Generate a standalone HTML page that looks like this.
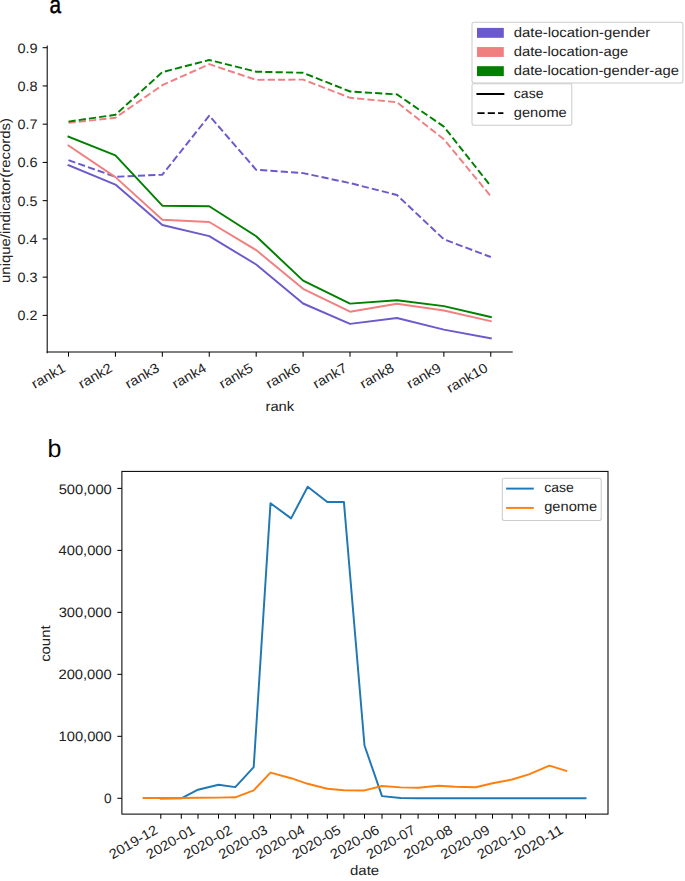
<!DOCTYPE html>
<html><head><meta charset="utf-8"><style>
html,body{margin:0;padding:0;background:#fff;}
#fig{width:685px;height:881px;position:relative;overflow:hidden;background:#fff;}
svg{position:absolute;left:0;top:0;}
text{font-family:"Liberation Sans",sans-serif;text-rendering:geometricPrecision;}
</style></head><body><div id="fig">
<svg width="685" height="881" viewBox="0 0 685 881">
<polyline points="68.50,165.20 115.42,184.60 162.34,225.00 209.26,236.10 256.18,264.50 303.10,303.50 350.02,323.90 396.94,318.00 443.86,329.60 490.78,338.30" fill="none" stroke="#6a5acd" stroke-width="1.95" stroke-linejoin="round" stroke-linecap="square"/>
<polyline points="68.50,160.20 115.42,176.80 162.34,174.70 209.26,115.70 256.18,169.80 303.10,173.10 350.02,183.10 396.94,195.00 443.86,239.30 490.78,257.00" fill="none" stroke="#6a5acd" stroke-width="1.95" stroke-dasharray="7.2 3.12" stroke-linejoin="round" stroke-linecap="butt"/>
<polyline points="68.50,145.60 115.42,177.10 162.34,219.80 209.26,222.00 256.18,250.10 303.10,288.80 350.02,311.70 396.94,303.80 443.86,310.50 490.78,321.20" fill="none" stroke="#f08080" stroke-width="1.95" stroke-linejoin="round" stroke-linecap="square"/>
<polyline points="68.50,122.80 115.42,117.80 162.34,85.20 209.26,64.20 256.18,79.90 303.10,79.60 350.02,97.80 396.94,102.20 443.86,139.30 490.78,196.20" fill="none" stroke="#f08080" stroke-width="1.95" stroke-dasharray="7.2 3.12" stroke-linejoin="round" stroke-linecap="butt"/>
<polyline points="68.50,136.60 115.42,155.30 162.34,205.70 209.26,206.30 256.18,236.30 303.10,280.60 350.02,303.60 396.94,300.30 443.86,306.10 490.78,317.00" fill="none" stroke="#008000" stroke-width="1.95" stroke-linejoin="round" stroke-linecap="square"/>
<polyline points="68.50,121.60 115.42,114.80 162.34,72.10 209.26,60.00 256.18,71.70 303.10,72.80 350.02,91.50 396.94,94.40 443.86,126.60 490.78,186.20" fill="none" stroke="#008000" stroke-width="1.95" stroke-dasharray="7.2 3.12" stroke-linejoin="round" stroke-linecap="butt"/>
<line x1="47.20" y1="46.10" x2="47.20" y2="352.62" stroke="#000" stroke-width="1.04" stroke-linecap="square"/>
<line x1="47.20" y1="352.10" x2="512.20" y2="352.10" stroke="#000" stroke-width="1.04" stroke-linecap="square"/>
<line x1="42.65" y1="315.38" x2="47.20" y2="315.38" stroke="#000" stroke-width="1.04"/>
<text x="17.53" y="320.38" font-size="13.7" textLength="19.79" lengthAdjust="spacingAndGlyphs" fill="#222">0.2</text>
<line x1="42.65" y1="277.14" x2="47.20" y2="277.14" stroke="#000" stroke-width="1.04"/>
<text x="17.52" y="282.14" font-size="13.7" textLength="19.97" lengthAdjust="spacingAndGlyphs" fill="#222">0.3</text>
<line x1="42.65" y1="238.90" x2="47.20" y2="238.90" stroke="#000" stroke-width="1.04"/>
<text x="17.52" y="243.90" font-size="13.7" textLength="20.07" lengthAdjust="spacingAndGlyphs" fill="#222">0.4</text>
<line x1="42.65" y1="200.66" x2="47.20" y2="200.66" stroke="#000" stroke-width="1.04"/>
<text x="17.53" y="205.66" font-size="13.7" textLength="19.84" lengthAdjust="spacingAndGlyphs" fill="#222">0.5</text>
<line x1="42.65" y1="162.42" x2="47.20" y2="162.42" stroke="#000" stroke-width="1.04"/>
<text x="17.51" y="167.42" font-size="13.7" textLength="20.21" lengthAdjust="spacingAndGlyphs" fill="#222">0.6</text>
<line x1="42.65" y1="124.18" x2="47.20" y2="124.18" stroke="#000" stroke-width="1.04"/>
<text x="17.52" y="129.18" font-size="13.7" textLength="19.99" lengthAdjust="spacingAndGlyphs" fill="#222">0.7</text>
<line x1="42.65" y1="85.94" x2="47.20" y2="85.94" stroke="#000" stroke-width="1.04"/>
<text x="17.52" y="90.94" font-size="13.7" textLength="20.12" lengthAdjust="spacingAndGlyphs" fill="#222">0.8</text>
<line x1="42.65" y1="47.70" x2="47.20" y2="47.70" stroke="#000" stroke-width="1.04"/>
<text x="17.52" y="52.70" font-size="13.7" textLength="20.16" lengthAdjust="spacingAndGlyphs" fill="#222">0.9</text>
<line x1="68.50" y1="352.10" x2="68.50" y2="356.65" stroke="#000" stroke-width="1.04"/>
<text x="0.21" y="0" font-size="13.7" textLength="36.66" lengthAdjust="spacingAndGlyphs" fill="#222" transform="translate(34.60 389.13) rotate(-30)">rank1</text>
<line x1="115.42" y1="352.10" x2="115.42" y2="356.65" stroke="#000" stroke-width="1.04"/>
<text x="0.21" y="0" font-size="13.7" textLength="36.57" lengthAdjust="spacingAndGlyphs" fill="#222" transform="translate(81.52 389.13) rotate(-30)">rank2</text>
<line x1="162.34" y1="352.10" x2="162.34" y2="356.65" stroke="#000" stroke-width="1.04"/>
<text x="0.21" y="0" font-size="13.7" textLength="36.75" lengthAdjust="spacingAndGlyphs" fill="#222" transform="translate(128.44 389.13) rotate(-30)">rank3</text>
<line x1="209.26" y1="352.10" x2="209.26" y2="356.65" stroke="#000" stroke-width="1.04"/>
<text x="0.20" y="0" font-size="13.7" textLength="36.85" lengthAdjust="spacingAndGlyphs" fill="#222" transform="translate(175.36 389.13) rotate(-30)">rank4</text>
<line x1="256.18" y1="352.10" x2="256.18" y2="356.65" stroke="#000" stroke-width="1.04"/>
<text x="0.21" y="0" font-size="13.7" textLength="36.62" lengthAdjust="spacingAndGlyphs" fill="#222" transform="translate(222.28 389.13) rotate(-30)">rank5</text>
<line x1="303.10" y1="352.10" x2="303.10" y2="356.65" stroke="#000" stroke-width="1.04"/>
<text x="0.20" y="0" font-size="13.7" textLength="36.98" lengthAdjust="spacingAndGlyphs" fill="#222" transform="translate(269.20 389.13) rotate(-30)">rank6</text>
<line x1="350.02" y1="352.10" x2="350.02" y2="356.65" stroke="#000" stroke-width="1.04"/>
<text x="0.20" y="0" font-size="13.7" textLength="36.77" lengthAdjust="spacingAndGlyphs" fill="#222" transform="translate(316.12 389.13) rotate(-30)">rank7</text>
<line x1="396.94" y1="352.10" x2="396.94" y2="356.65" stroke="#000" stroke-width="1.04"/>
<text x="0.20" y="0" font-size="13.7" textLength="36.90" lengthAdjust="spacingAndGlyphs" fill="#222" transform="translate(363.04 389.13) rotate(-30)">rank8</text>
<line x1="443.86" y1="352.10" x2="443.86" y2="356.65" stroke="#000" stroke-width="1.04"/>
<text x="0.20" y="0" font-size="13.7" textLength="36.93" lengthAdjust="spacingAndGlyphs" fill="#222" transform="translate(409.96 389.13) rotate(-30)">rank9</text>
<line x1="490.78" y1="352.10" x2="490.78" y2="356.65" stroke="#000" stroke-width="1.04"/>
<text x="0.20" y="0" font-size="13.7" textLength="45.13" lengthAdjust="spacingAndGlyphs" fill="#222" transform="translate(449.72 393.27) rotate(-30)">rank10</text>
<text x="265.46" y="410.90" font-size="13.7" textLength="28.82" lengthAdjust="spacingAndGlyphs" fill="#222">rank</text>
<text x="-82.43" y="0" font-size="13.7" textLength="164.81" lengthAdjust="spacingAndGlyphs" fill="#222" transform="translate(10.40 200.50) rotate(-90)">unique/indicator(records)</text>
<rect x="472.0" y="22.2" width="210.9" height="60.9" rx="2" fill="#fff" fill-opacity="0.8" stroke="#cccccc" stroke-width="1.04"/>
<rect x="477.0" y="27.90" width="26.8" height="9.9" fill="#6a5acd"/>
<text x="513.79" y="37.10" font-size="13.7" textLength="136.52" lengthAdjust="spacingAndGlyphs" fill="#222">date-location-gender</text>
<rect x="477.0" y="47.05" width="26.8" height="9.9" fill="#f08080"/>
<text x="513.80" y="56.25" font-size="13.7" textLength="114.36" lengthAdjust="spacingAndGlyphs" fill="#222">date-location-age</text>
<rect x="477.0" y="66.20" width="26.8" height="9.9" fill="#008000"/>
<text x="513.80" y="75.40" font-size="13.7" textLength="165.14" lengthAdjust="spacingAndGlyphs" fill="#222">date-location-gender-age</text>
<rect x="472.0" y="83.7" width="99.8" height="41.6" rx="2" fill="#fff" fill-opacity="0.8" stroke="#cccccc" stroke-width="1.04"/>
<line x1="477.40" y1="94.00" x2="503.40" y2="94.00" stroke="#000" stroke-width="1.95" stroke-linecap="square"/>
<line x1="477.4" y1="113.1" x2="503.4" y2="113.1" stroke="#000" stroke-width="1.95" stroke-dasharray="7.2 3.12"/>
<text x="513.82" y="98.35" font-size="13.7" textLength="29.70" lengthAdjust="spacingAndGlyphs" fill="#222">case</text>
<text x="513.80" y="117.45" font-size="13.7" textLength="52.96" lengthAdjust="spacingAndGlyphs" fill="#222">genome</text>
<polyline points="160.80,798.40 181.30,798.30 198.00,789.70 218.50,784.80 235.30,787.10 253.70,767.10 270.50,503.20 291.10,518.40 307.70,486.70 327.30,501.90 343.90,501.90 364.50,745.50 382.00,796.10 400.70,798.00 418.10,798.20 438.50,798.20 455.30,798.20 475.80,798.20 492.50,798.20 512.10,798.20 528.90,798.20 549.40,798.20 566.20,798.20 585.50,798.20" fill="none" stroke="#1f77b4" stroke-width="1.95" stroke-linejoin="round" stroke-linecap="square"/>
<polyline points="143.60,798.00 160.80,798.00 181.30,798.00 198.00,797.80 218.50,797.60 235.30,797.30 253.70,790.30 270.50,772.60 291.10,778.20 307.70,783.80 327.30,788.80 343.90,790.20 364.50,790.40 382.00,786.00 400.70,787.40 418.10,787.80 438.50,785.70 455.30,786.80 475.80,787.30 492.50,783.20 512.10,779.50 528.90,774.40 549.40,765.60 566.20,770.90" fill="none" stroke="#ff7f0e" stroke-width="1.95" stroke-linejoin="round" stroke-linecap="square"/>
<rect x="121.9" y="471.4" width="486.10" height="342.70" fill="none" stroke="#000" stroke-width="1.04"/>
<line x1="117.35" y1="798.30" x2="121.90" y2="798.30" stroke="#000" stroke-width="1.04"/>
<text x="104.05" y="803.40" font-size="13.7" textLength="7.62" lengthAdjust="spacingAndGlyphs" fill="#222">0</text>
<line x1="117.35" y1="736.32" x2="121.90" y2="736.32" stroke="#000" stroke-width="1.04"/>
<text x="58.55" y="741.42" font-size="13.7" textLength="53.16" lengthAdjust="spacingAndGlyphs" fill="#222">100,000</text>
<line x1="117.35" y1="674.34" x2="121.90" y2="674.34" stroke="#000" stroke-width="1.04"/>
<text x="58.45" y="679.44" font-size="13.7" textLength="53.26" lengthAdjust="spacingAndGlyphs" fill="#222">200,000</text>
<line x1="117.35" y1="612.36" x2="121.90" y2="612.36" stroke="#000" stroke-width="1.04"/>
<text x="58.67" y="617.46" font-size="13.7" textLength="53.04" lengthAdjust="spacingAndGlyphs" fill="#222">300,000</text>
<line x1="117.35" y1="550.38" x2="121.90" y2="550.38" stroke="#000" stroke-width="1.04"/>
<text x="58.54" y="555.48" font-size="13.7" textLength="53.17" lengthAdjust="spacingAndGlyphs" fill="#222">400,000</text>
<line x1="117.35" y1="488.40" x2="121.90" y2="488.40" stroke="#000" stroke-width="1.04"/>
<text x="58.66" y="493.50" font-size="13.7" textLength="53.05" lengthAdjust="spacingAndGlyphs" fill="#222">500,000</text>
<line x1="160.80" y1="814.10" x2="160.80" y2="818.65" stroke="#000" stroke-width="1.04"/>
<text x="0.22" y="0" font-size="13.7" textLength="53.53" lengthAdjust="spacingAndGlyphs" fill="#222" transform="translate(112.21 859.61) rotate(-30)">2019-12</text>
<line x1="181.30" y1="814.10" x2="181.30" y2="818.65" stroke="#000" stroke-width="1.04"/>
<line x1="198.00" y1="814.10" x2="198.00" y2="818.65" stroke="#000" stroke-width="1.04"/>
<text x="0.22" y="0" font-size="13.7" textLength="53.61" lengthAdjust="spacingAndGlyphs" fill="#222" transform="translate(149.41 859.61) rotate(-30)">2020-01</text>
<line x1="218.50" y1="814.10" x2="218.50" y2="818.65" stroke="#000" stroke-width="1.04"/>
<line x1="235.30" y1="814.10" x2="235.30" y2="818.65" stroke="#000" stroke-width="1.04"/>
<text x="0.22" y="0" font-size="13.7" textLength="53.53" lengthAdjust="spacingAndGlyphs" fill="#222" transform="translate(186.71 859.61) rotate(-30)">2020-02</text>
<line x1="253.70" y1="814.10" x2="253.70" y2="818.65" stroke="#000" stroke-width="1.04"/>
<line x1="270.50" y1="814.10" x2="270.50" y2="818.65" stroke="#000" stroke-width="1.04"/>
<text x="0.22" y="0" font-size="13.7" textLength="53.70" lengthAdjust="spacingAndGlyphs" fill="#222" transform="translate(221.91 859.61) rotate(-30)">2020-03</text>
<line x1="291.10" y1="814.10" x2="291.10" y2="818.65" stroke="#000" stroke-width="1.04"/>
<line x1="307.70" y1="814.10" x2="307.70" y2="818.65" stroke="#000" stroke-width="1.04"/>
<text x="0.21" y="0" font-size="13.7" textLength="53.80" lengthAdjust="spacingAndGlyphs" fill="#222" transform="translate(259.11 859.61) rotate(-30)">2020-04</text>
<line x1="327.30" y1="814.10" x2="327.30" y2="818.65" stroke="#000" stroke-width="1.04"/>
<line x1="343.90" y1="814.10" x2="343.90" y2="818.65" stroke="#000" stroke-width="1.04"/>
<text x="0.22" y="0" font-size="13.7" textLength="53.58" lengthAdjust="spacingAndGlyphs" fill="#222" transform="translate(295.31 859.61) rotate(-30)">2020-05</text>
<line x1="364.50" y1="814.10" x2="364.50" y2="818.65" stroke="#000" stroke-width="1.04"/>
<line x1="382.00" y1="814.10" x2="382.00" y2="818.65" stroke="#000" stroke-width="1.04"/>
<text x="0.21" y="0" font-size="13.7" textLength="53.93" lengthAdjust="spacingAndGlyphs" fill="#222" transform="translate(333.41 859.61) rotate(-30)">2020-06</text>
<line x1="400.70" y1="814.10" x2="400.70" y2="818.65" stroke="#000" stroke-width="1.04"/>
<line x1="418.10" y1="814.10" x2="418.10" y2="818.65" stroke="#000" stroke-width="1.04"/>
<text x="0.22" y="0" font-size="13.7" textLength="53.73" lengthAdjust="spacingAndGlyphs" fill="#222" transform="translate(369.51 859.61) rotate(-30)">2020-07</text>
<line x1="438.50" y1="814.10" x2="438.50" y2="818.65" stroke="#000" stroke-width="1.04"/>
<line x1="455.30" y1="814.10" x2="455.30" y2="818.65" stroke="#000" stroke-width="1.04"/>
<text x="0.21" y="0" font-size="13.7" textLength="53.85" lengthAdjust="spacingAndGlyphs" fill="#222" transform="translate(406.71 859.61) rotate(-30)">2020-08</text>
<line x1="475.80" y1="814.10" x2="475.80" y2="818.65" stroke="#000" stroke-width="1.04"/>
<line x1="492.50" y1="814.10" x2="492.50" y2="818.65" stroke="#000" stroke-width="1.04"/>
<text x="0.21" y="0" font-size="13.7" textLength="53.88" lengthAdjust="spacingAndGlyphs" fill="#222" transform="translate(443.91 859.61) rotate(-30)">2020-09</text>
<line x1="512.10" y1="814.10" x2="512.10" y2="818.65" stroke="#000" stroke-width="1.04"/>
<line x1="528.90" y1="814.10" x2="528.90" y2="818.65" stroke="#000" stroke-width="1.04"/>
<text x="0.21" y="0" font-size="13.7" textLength="53.81" lengthAdjust="spacingAndGlyphs" fill="#222" transform="translate(480.31 859.61) rotate(-30)">2020-10</text>
<line x1="549.40" y1="814.10" x2="549.40" y2="818.65" stroke="#000" stroke-width="1.04"/>
<line x1="566.20" y1="814.10" x2="566.20" y2="818.65" stroke="#000" stroke-width="1.04"/>
<text x="0.22" y="0" font-size="13.7" textLength="53.61" lengthAdjust="spacingAndGlyphs" fill="#222" transform="translate(517.61 859.61) rotate(-30)">2020-11</text>
<line x1="585.50" y1="814.10" x2="585.50" y2="818.65" stroke="#000" stroke-width="1.04"/>
<text x="350.03" y="875.40" font-size="13.7" textLength="29.20" lengthAdjust="spacingAndGlyphs" fill="#222">date</text>
<text x="-18.25" y="0" font-size="13.7" textLength="36.39" lengthAdjust="spacingAndGlyphs" fill="#222" transform="translate(50.00 643.60) rotate(-90)">count</text>
<rect x="502.3" y="478.2" width="98.9" height="42.3" rx="2" fill="#fff" fill-opacity="0.8" stroke="#cccccc" stroke-width="1.04"/>
<line x1="507.10" y1="488.60" x2="532.80" y2="488.60" stroke="#1f77b4" stroke-width="1.95" stroke-linecap="square"/>
<line x1="507.10" y1="507.90" x2="532.80" y2="507.90" stroke="#ff7f0e" stroke-width="1.95" stroke-linecap="square"/>
<text x="544.22" y="492.10" font-size="13.7" textLength="29.70" lengthAdjust="spacingAndGlyphs" fill="#222">case</text>
<text x="544.20" y="511.30" font-size="13.7" textLength="52.96" lengthAdjust="spacingAndGlyphs" fill="#222">genome</text>
<text x="49.6" y="12.8" font-size="25" fill="#000" stroke="#000" stroke-width="0.45" textLength="11.6" lengthAdjust="spacingAndGlyphs">a</text>
<text x="47.4" y="456.6" font-size="25" fill="#000">b</text>
</svg></div></body></html>
